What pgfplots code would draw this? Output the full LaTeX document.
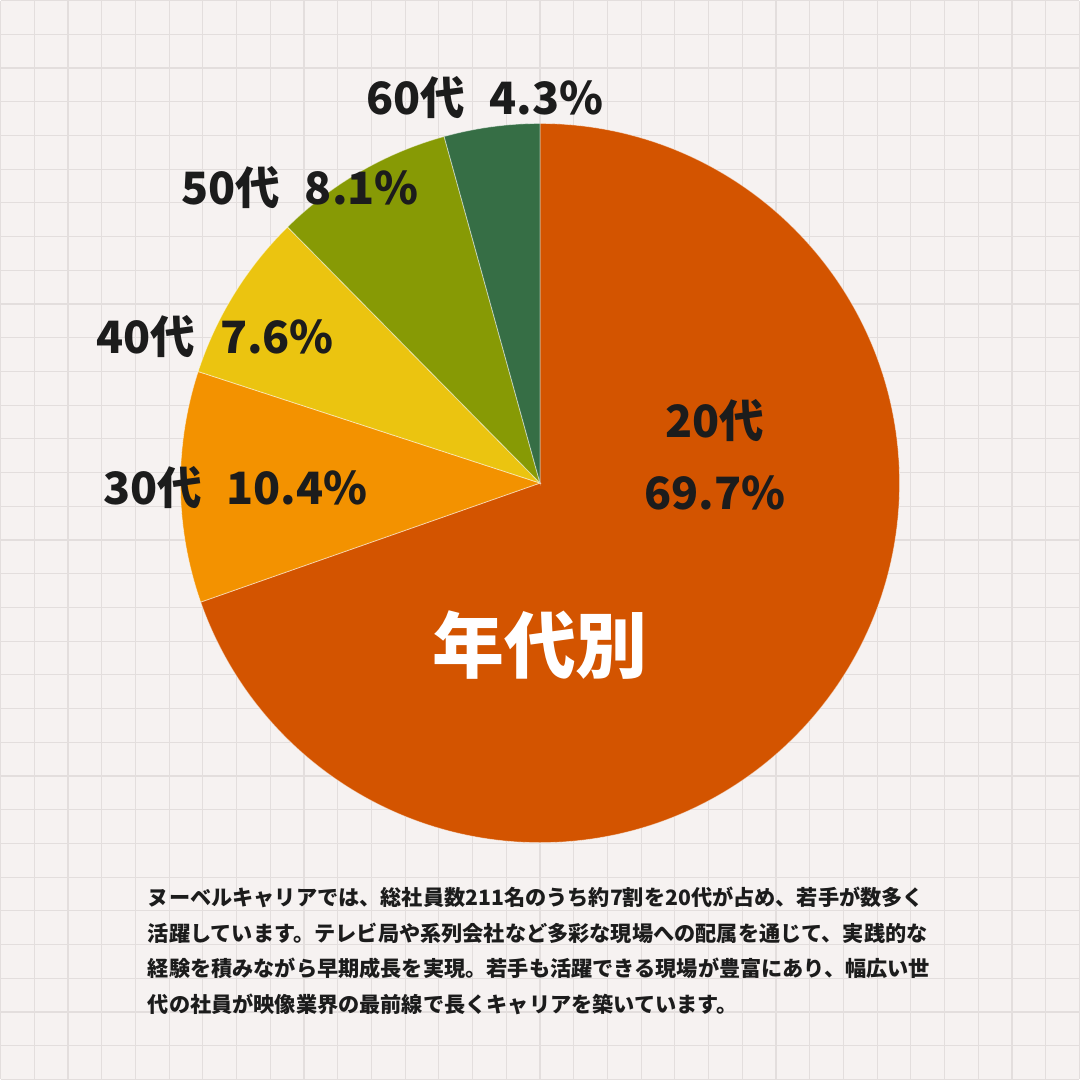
\documentclass[border=0pt]{standalone}
\usepackage{fontspec}
\setmainfont{Noto Sans CJK JP}
\usepackage{pgfplots}
\usepackage{pgfplotstable}
\pgfplotsset{compat=1.18}
\definecolor{bg}{HTML}{F6F2F1}
\definecolor{gridc}{HTML}{E3DEDD}
\definecolor{cA}{HTML}{D35400}
\definecolor{cB}{HTML}{F39200}
\definecolor{cC}{HTML}{EBC410}
\definecolor{cD}{HTML}{879A05}
\definecolor{cE}{HTML}{366E45}
\definecolor{txt}{HTML}{1C1C1C}
\pgfplotstableread{
value
69.7
10.4
7.6
8.1
4.3
}\agedata
\pgfplotstablegetelem{0}{value}\of\agedata\let\vA\pgfplotsretval
\pgfplotstablegetelem{1}{value}\of\agedata\let\vB\pgfplotsretval
\pgfplotstablegetelem{2}{value}\of\agedata\let\vC\pgfplotsretval
\pgfplotstablegetelem{3}{value}\of\agedata\let\vD\pgfplotsretval
\pgfplotstablegetelem{4}{value}\of\agedata\let\vE\pgfplotsretval
\pgfmathsetmacro\tot{\vA+\vB+\vC+\vD+\vE}
\pgfmathsetmacro\aA{90}
\pgfmathsetmacro\aB{\aA-3.6*(\vA/\tot)*100}
\pgfmathsetmacro\aC{\aB-3.6*(\vB/\tot)*100}
\pgfmathsetmacro\aD{\aC-3.6*(\vC/\tot)*100}
\pgfmathsetmacro\aE{\aD-3.6*(\vD/\tot)*100}
\pgfmathsetmacro\aF{\aE-3.6*(\vE/\tot)*100}
\begin{document}
\begin{tikzpicture}
\fill[bg] (0,0) rectangle (540pt,540pt);
\foreach \i in {0,...,32}{
  \draw[gridc, line width=0.6pt] ({\i*16.875pt},0) -- ({\i*16.875pt},540pt);
  \draw[gridc, line width=0.6pt] (0,{\i*16.875pt}) -- (540pt,{\i*16.875pt});
}
\useasboundingbox (0,0) rectangle (540pt,540pt);
\begin{axis}[at={(0,0)}, anchor=south west, x=180pt, y=180pt,
  xmin=-1.5, xmax=1.5, ymin=-1.658333, ymax=1.341667,
  hide axis, clip=false]
\addplot[draw=none] coordinates {(0,0)};
\fill[cA, draw=white, draw opacity=0.5, line width=0.4pt] (axis cs:0,0) -- (axis cs:{cos(\aA)},{sin(\aA)}) arc[start angle=\aA, end angle=\aB, radius=180pt] -- cycle;
\fill[cB, draw=white, draw opacity=0.5, line width=0.4pt] (axis cs:0,0) -- (axis cs:{cos(\aB)},{sin(\aB)}) arc[start angle=\aB, end angle=\aC, radius=180pt] -- cycle;
\fill[cC, draw=white, draw opacity=0.5, line width=0.4pt] (axis cs:0,0) -- (axis cs:{cos(\aC)},{sin(\aC)}) arc[start angle=\aC, end angle=\aD, radius=180pt] -- cycle;
\fill[cD, draw=white, draw opacity=0.5, line width=0.4pt] (axis cs:0,0) -- (axis cs:{cos(\aD)},{sin(\aD)}) arc[start angle=\aD, end angle=\aE, radius=180pt] -- cycle;
\fill[cE, draw=white, draw opacity=0.5, line width=0.4pt] (axis cs:0,0) -- (axis cs:{cos(\aE)},{sin(\aE)}) arc[start angle=\aE, end angle=\aF, radius=180pt] -- cycle;
\tikzset{lab/.style={text=txt, inner sep=0pt, font=\bfseries\fontsize{22.3}{26}\selectfont}}
\node[lab] at (axis cs:-0.153,1.072) {60代\hspace{0.55em}4.3\%};
\node[lab] at (axis cs:-0.667,0.822) {50代\hspace{0.55em}8.1\%};
\node[lab] at (axis cs:-0.903,0.406) {40代\hspace{0.55em}7.6\%};
\node[lab] at (axis cs:-0.847,-0.014) {30代\hspace{0.55em}10.4\%};
\node[lab] at (axis cs:0.486,0.175) {20代};
\node[lab] at (axis cs:0.486,-0.028) {69.7\%};
\node[text=white, inner sep=0pt, font=\bfseries\fontsize{36}{40}\selectfont] at (axis cs:0,-0.45) {年代別};
\end{axis}
\begin{scope}[every node/.style={anchor=west, inner sep=0pt, text=txt, font=\bfseries\fontsize{10.6}{12}\selectfont}]
\node at (73.5pt,91pt) {ヌーベルキャリアでは、総社員数211名のうち約7割を20代が占め、若手が数多く};
\node at (73.5pt,73.25pt) {活躍しています。テレビ局や系列会社など多彩な現場への配属を通じて、実践的な};
\node at (73.5pt,55.5pt) {経験を積みながら早期成長を実現。若手も活躍できる現場が豊富にあり、幅広い世};
\node at (73.5pt,37.75pt) {代の社員が映像業界の最前線で長くキャリアを築いています。};
\end{scope}
\end{tikzpicture}
\end{document}
